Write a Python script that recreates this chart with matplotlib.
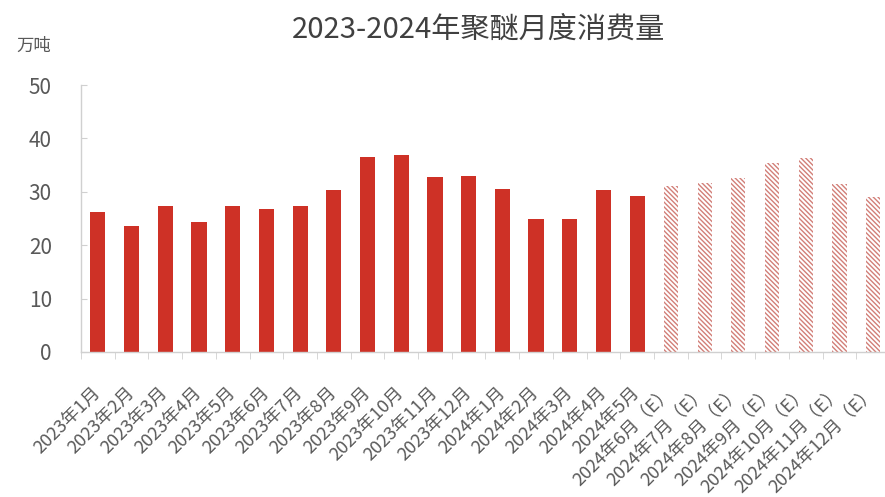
import matplotlib
matplotlib.use("Agg")
import matplotlib.pyplot as plt
import numpy as np

plt.rcParams['font.family'] = ['Noto Sans CJK SC', 'DejaVu Sans']
plt.rcParams['hatch.linewidth'] = 1.0

# 数据
months = ["2023年1月", "2023年2月", "2023年3月", "2023年4月", "2023年5月", "2023年6月",
          "2023年7月", "2023年8月", "2023年9月", "2023年10月", "2023年11月", "2023年12月",
          "2024年1月", "2024年2月", "2024年3月", "2024年4月", "2024年5月",
          "2024年6月（E）", "2024年7月（E）", "2024年8月（E）", "2024年9月（E）",
          "2024年10月（E）", "2024年11月（E）", "2024年12月（E）"]
actual = [26.3, 23.6, 27.4, 24.3, 27.4, 26.7, 27.4, 30.3, 36.6, 36.9, 32.7, 33.0,
          30.6, 24.9, 24.9, 30.3, 29.3]
estimate = [31.1, 31.7, 32.5, 35.4, 36.4, 31.4, 29.1]
yticks = [0, 10, 20, 30, 40, 50]

x_act = np.arange(len(actual))
x_est = np.arange(len(actual), len(months))

fig = plt.figure(figsize=(8.85, 4.97), dpi=100)
ax = fig.add_axes([81 / 885, 145 / 497, 809 / 885, 267 / 497])

ax.bar(x_act, actual, width=0.45, color='#CE3126', linewidth=0)
# 预测值用斜线填充
ax.bar(x_est, estimate, width=0.42, color='white', edgecolor='#D27F78',
       hatch='\\' * 7, linewidth=0)

ax.set_xlim(-0.5, len(months) - 0.5)
ax.set_ylim(0, 50)
ax.set_yticks(yticks)

for s in ['top', 'right']:
    ax.spines[s].set_visible(False)
for s in ['left', 'bottom']:
    ax.spines[s].set_color('#D0D0D0')
    ax.spines[s].set_linewidth(1)

ax.tick_params(axis='y', direction='in', length=4, color='#D0D0D0',
               labelsize=15, labelcolor='#595959', pad=21)
ax.set_xticks(np.arange(len(months)))
ax.set_xticklabels(months, rotation=45, ha='right', va='center',
                   rotation_mode='anchor', fontsize=13, color='#595959')
ax.tick_params(axis='x', which='major', length=0, pad=27)
ax.set_xticks(np.arange(len(months) + 1) - 0.5, minor=True)
ax.tick_params(axis='x', which='minor', direction='out', length=5, color='#D0D0D0')

fig.text(478 / 885, 1 - 30 / 497, "2023-2024年聚醚月度消费量", ha='center', va='center',
         fontsize=21, color='#404040')
fig.text(34 / 885, 1 - 46 / 497, "万吨", ha='center', va='center',
         fontsize=12.5, color='#595959')

fig.savefig("out.png", dpi=100)
